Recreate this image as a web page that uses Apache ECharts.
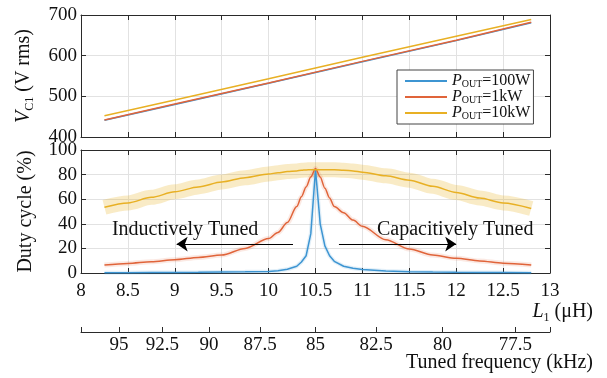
<!DOCTYPE html>
<html><head><meta charset="utf-8">
<script src="https://cdn.jsdelivr.net/npm/echarts@6/dist/echarts.min.js"></script>
<style>html,body{margin:0;padding:0;background:#fff}#c{width:607px;height:378px}</style>
</head><body><div id="c"></div>
<script>
// ---- data ----
const seriesNames = ['P_OUT=100W', 'P_OUT=1kW', 'P_OUT=10kW'];
const legendLabels = ['=100W', '=1kW', '=10kW'];
// top panel: V_C1 (V rms) vs L1 (uH)
const topL = [8.25, 9, 10, 11, 12, 12.8];
const vc100W = [441, 480, 532, 585, 637, 681];
const vc1kW = [442, 481, 533, 586, 638, 682];
const vc10kW = [452, 491, 543, 596, 648, 689];
// bottom panel: duty cycle (%) vs L1 (uH)
const dutyL = [8.25, 8.5, 8.75, 9, 9.25, 9.5, 9.75, 10, 10.1, 10.2, 10.3, 10.35, 10.4, 10.45, 10.5, 10.55, 10.6, 10.65, 10.7, 10.8, 10.9, 11, 11.25, 11.5, 11.75, 12, 12.25, 12.5, 12.8];
const duty100W = [0.3, 0.3, 0.4, 0.5, 0.6, 0.8, 1.0, 1.3, 1.8, 3, 5.5, 9, 14, 32, 84, 40, 22, 14, 9.5, 5.5, 3.8, 2.8, 1.6, 1.1, 0.8, 0.6, 0.5, 0.4, 0.3];
const duty1kW = [6.5, 7.8, 9.2, 10.8, 12.7, 14.6, 20, 28, 33, 41, 54, 62, 70, 78, 85, 78, 69, 61, 54, 49, 43, 38, 27, 19.5, 14.6, 12, 9.8, 8, 6.5];
const duty10kW = [53.5, 57, 61.5, 66, 70, 74, 77.5, 80.5, 81.5, 82.5, 83, 83.5, 83.8, 84, 84, 84, 84, 84, 84, 83.5, 83, 82, 79, 75.5, 70.5, 65.5, 61, 57, 52.5];
// secondary axis: tuned frequency (kHz)
const freqTicks = [95, 92.5, 90, 87.5, 85, 82.5, 80, 77.5];
const freqRef = 85, LRef = 10.5; // resonance reference: 85 kHz at 10.5 uH
// annotations
const annoText = ['Inductively Tuned', 'Capacitively Tuned'];
const annoPos = [[9.11, 35], [11.99, 35]];
const arrows = [[[10.26, 23.5], [9.02, 23.5]], [[10.75, 23.5], [12.0, 23.5]]];

// ---- chart ----
const FONT = '"Liberation Serif", "DejaVu Serif", serif';
const colors = ['#3d95d2', '#e0643a', '#e8b024'];
const frame = '#2a2a2a';
const gridColor = '#e2e2e2';
const pair = (xs, ys) => xs.map((x, i) => [x, ys[i]]);
const freqL = freqTicks.map(f => LRef * Math.pow(freqRef / f, 2));

function xAx(grid, pos, opts) {
  return Object.assign({
    type: 'value', gridIndex: grid, position: pos, min: 8, max: 13, interval: 0.5,
    axisLine: { show: true, onZero: false, lineStyle: { color: frame, width: 1 } },
    axisTick: { show: true, inside: true, length: 5, lineStyle: { color: frame } },
    axisLabel: { show: false },
    splitLine: { show: false },
    nameMoveOverlap: false
  }, opts);
}
function yAx(grid, pos, min, max, interval, opts) {
  return Object.assign({
    type: 'value', gridIndex: grid, position: pos, min: min, max: max, interval: interval,
    axisLine: { show: true, onZero: false, lineStyle: { color: frame, width: 1 } },
    axisTick: { show: true, inside: true, length: 5, lineStyle: { color: frame } },
    axisLabel: { show: false },
    splitLine: { show: false },
    nameMoveOverlap: false
  }, opts);
}
const labelStyle = { show: true, fontFamily: FONT, fontSize: 19, color: '#111' };
const subRich = {
  i: { fontFamily: FONT, fontStyle: 'italic', fontSize: 20, color: '#111' },
  s: { fontFamily: FONT, fontSize: 12, color: '#111', verticalAlign: 'bottom', lineHeight: 24 },
  n: { fontFamily: FONT, fontSize: 20, color: '#111' }
};
const gridBase = { outerBoundsMode: 'none', containLabel: false };

const option = {
  animation: false,
  backgroundColor: '#fff',
  grid: [
    Object.assign({ left: 81, top: 15, width: 469, height: 122 }, gridBase),
    Object.assign({ left: 81, top: 150, width: 469, height: 123 }, gridBase),
    Object.assign({ left: 81, top: 330, width: 469, height: 2 }, gridBase)
  ],
  xAxis: [
    xAx(0, 'bottom', { splitLine: { show: true, lineStyle: { color: gridColor } } }),
    xAx(0, 'top'),
    xAx(1, 'bottom', {
      splitLine: { show: true, lineStyle: { color: gridColor } },
      axisLabel: Object.assign({}, labelStyle, { margin: 9 }),
      name: '{i|L}{s|1}{n| (μH)}', nameLocation: 'end', nameGap: 43,
      nameTextStyle: { align: 'right', verticalAlign: 'top', padding: [27, 0, 0, 0], rich: subRich }
    }),
    xAx(1, 'top'),
    xAx(2, 'bottom', {
      axisTick: { show: true, inside: true, length: 5, lineStyle: { color: frame }, customValues: [8].concat(freqL, [13]) },
      axisLabel: Object.assign({}, labelStyle, {
        margin: 4, customValues: freqL,
        formatter: v => { const k = freqL.findIndex(l => Math.abs(l - v) < 1e-6); return k >= 0 ? String(freqTicks[k]) : ''; }
      }),
      name: 'Tuned frequency (kHz)', nameLocation: 'end', nameGap: 43,
      nameTextStyle: { align: 'right', verticalAlign: 'top', fontFamily: FONT, fontSize: 20, color: '#111', padding: [21, 0, 0, 0] }
    })
  ],
  yAxis: [
    yAx(0, 'left', 400, 700, 100, {
      axisLabel: Object.assign({}, labelStyle, { margin: 4 }),
      splitLine: { show: true, lineStyle: { color: gridColor } },
      name: '{i|V}{s|C1}{n| (V rms)}', nameLocation: 'middle', nameGap: 45,
      nameTextStyle: { rich: subRich }
    }),
    yAx(0, 'right', 400, 700, 100),
    yAx(1, 'left', 0, 100, 20, {
      axisLabel: Object.assign({}, labelStyle, { margin: 4 }),
      splitLine: { show: true, lineStyle: { color: gridColor } },
      name: 'Duty cycle (%)', nameLocation: 'middle', nameGap: 45,
      nameTextStyle: { fontFamily: FONT, fontSize: 20, color: '#111' }
    }),
    yAx(1, 'right', 0, 100, 20),
    { type: 'value', gridIndex: 2, show: false, min: 0, max: 1 }
  ],
  legend: {
    data: seriesNames, orient: 'vertical', left: 397, top: 70,
    backgroundColor: '#fff', borderColor: '#444', borderWidth: 1, borderRadius: 0,
    padding: [3, 3, 3, 8], itemGap: 0, itemWidth: 42, itemHeight: 2, icon: 'rect', itemTextGap: 2,
    selectedMode: false,
    formatter: name => '{p|P}{s|OUT}{t|' + legendLabels[seriesNames.indexOf(name)] + '}',
    textStyle: {
      fontFamily: FONT, fontSize: 16, color: '#111', lineHeight: 16,
      rich: {
        p: { fontFamily: FONT, fontStyle: 'italic', fontSize: 16, color: '#111', lineHeight: 16 },
        s: { fontFamily: FONT, fontSize: 10, color: '#111', verticalAlign: 'bottom', lineHeight: 16 },
        t: { fontFamily: FONT, fontSize: 16, color: '#111', lineHeight: 16 }
      }
    }
  },
  series: [
    // top panel
    { name: seriesNames[0], type: 'line', xAxisIndex: 0, yAxisIndex: 0, data: pair(topL, vc100W), color: colors[0], showSymbol: false, lineStyle: { width: 1.5 } },
    { name: seriesNames[1], type: 'line', xAxisIndex: 0, yAxisIndex: 0, data: pair(topL, vc1kW), color: colors[1], showSymbol: false, lineStyle: { width: 1.5 } },
    { name: seriesNames[2], type: 'line', xAxisIndex: 0, yAxisIndex: 0, data: pair(topL, vc10kW), color: colors[2], showSymbol: false, lineStyle: { width: 1.5 } },
    // bottom panel: uncertainty bands (thick translucent strokes)
    { name: seriesNames[2], type: 'line', xAxisIndex: 2, yAxisIndex: 2, data: pair(dutyL, duty10kW), color: colors[2], showSymbol: false, smooth: 0.3, smoothMonotone: 'x', lineStyle: { width: 15, opacity: 0.26, cap: 'butt' }, silent: true },
    { name: seriesNames[1], type: 'line', xAxisIndex: 2, yAxisIndex: 2, data: pair(dutyL, duty1kW), color: colors[1], showSymbol: false, smooth: 0.3, smoothMonotone: 'x', lineStyle: { width: 5, opacity: 0.14, cap: 'butt' }, silent: true },
    { name: seriesNames[0], type: 'line', xAxisIndex: 2, yAxisIndex: 2, data: pair(dutyL, duty100W), color: colors[0], showSymbol: false, lineStyle: { width: 4, opacity: 0.15, cap: 'butt' }, silent: true },
    // bottom panel: lines
    { name: seriesNames[0], type: 'line', xAxisIndex: 2, yAxisIndex: 2, data: pair(dutyL, duty100W), color: colors[0], showSymbol: false, lineStyle: { width: 1.5 } },
    { name: seriesNames[1], type: 'line', xAxisIndex: 2, yAxisIndex: 2, data: pair(dutyL, duty1kW), color: colors[1], showSymbol: false, smooth: 0.3, smoothMonotone: 'x', lineStyle: { width: 1.5 } },
    {
      name: seriesNames[2], type: 'line', xAxisIndex: 2, yAxisIndex: 2, data: pair(dutyL, duty10kW), color: colors[2], showSymbol: false, smooth: 0.3, smoothMonotone: 'x', lineStyle: { width: 1.5 },
      markPoint: {
        silent: true, symbol: 'circle', symbolSize: 0,
        label: { show: true, position: 'inside', formatter: '{b}', fontFamily: FONT, fontSize: 20, color: '#111' },
        data: annoText.map((t, i) => ({ name: t, coord: annoPos[i] }))
      },
      markLine: {
        silent: true, symbol: ['none', 'arrow'], symbolSize: 11,
        lineStyle: { color: '#000', width: 1, type: 'solid' },
        itemStyle: { color: '#000' },
        label: { show: false },
        data: arrows.map(a => [{ coord: a[0] }, { coord: a[1] }])
      }
    }
  ]
};
const chart = echarts.init(document.getElementById('c'), null, { renderer: 'canvas' });
chart.setOption(option);
</script>
</body></html>
